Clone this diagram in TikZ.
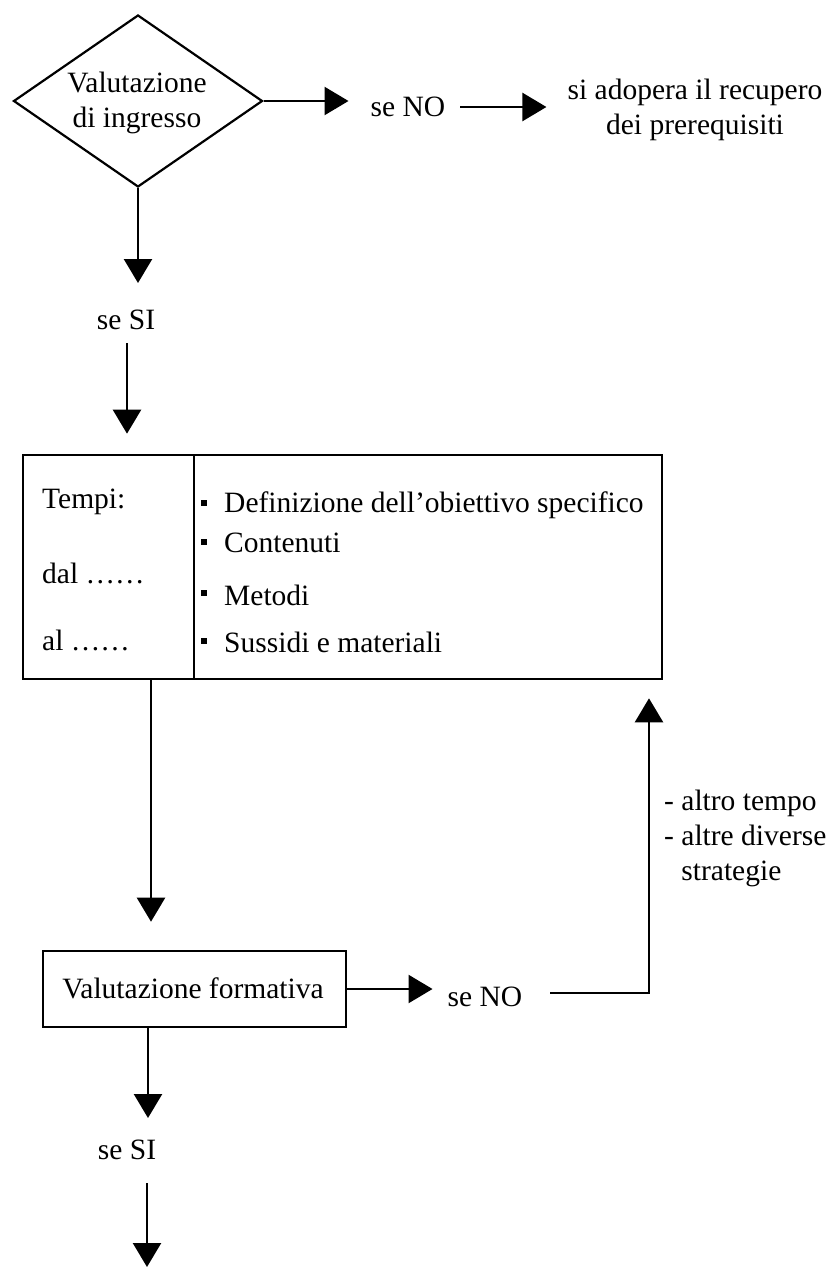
\documentclass[tikz,border=0pt]{standalone}
\usepackage{fontspec}
\setmainfont{Liberation Serif}
\usetikzlibrary{arrows.meta,shapes.geometric,calc}
\tikzset{
  txt/.style={inner sep=0pt, font=\fontsize{29.5}{35}\selectfont, align=center},
  conn/.style={line width=2.4pt},
  arr/.style={conn, -{Triangle[length=24pt,width=28pt]}},
  boxcell/.style={draw, line width=2.6pt, inner sep=0pt},
  bullet/.style={fill, inner sep=0pt, minimum size=6pt}
}
\begin{document}
\begin{tikzpicture}[x=1pt,y=-1pt]
\useasboundingbox (0,0) rectangle (828,1269);
% decision diamond
\node[draw, shape=diamond, line width=2.2pt, minimum width=249pt, minimum height=172pt, inner sep=0pt] (d) at (138,101) {};
\node[txt] (dtxt) at (137,103) {Valutazione\\di ingresso};
\node[txt] (no1) at (408,107) {se NO};
\node[txt] (rec) at (695,110) {si adopera il recupero\\dei prerequisiti};
\draw[arr] (d.east) -- (d.east -| no1.west) [shorten >=22pt];
\draw[arr, shorten <=15pt, shorten >=21pt] (no1.east) -- (no1.east -| rec.west);
% se SI 1
\coordinate (t1) at (138,283);
\node[txt] (si1) at (126,320) {se SI};
\draw[arr] (d.south) -- (t1);
% big box
\node[boxcell, minimum width=171pt, minimum height=224pt] (tl) at (108.5,567) {};
\node[boxcell, minimum width=468pt, minimum height=224pt] (tr) at (428,567) {};
\coordinate (s2) at (127,343);
\draw[arr, shorten >=20pt] (s2) -- (s2 |- tl.north);
\node[txt, anchor=west] (tempi) at (42,502) {Tempi:};
\node[txt, anchor=west] (dal) at (42,573) {dal ……};
\node[txt, anchor=west] (al) at (42,640) {al ……};
\node[bullet] (b1) at (204,503) {};
\node[bullet] (b2) at (204,542) {};
\node[bullet] (b3) at (204,593) {};
\node[bullet] (b4) at (204,641) {};
\node[txt, anchor=west] (i1) at (224,505) {Definizione dell'obiettivo specifico};
\node[txt, anchor=west] (i2) at (224,543) {Contenuti};
\node[txt, anchor=west] (i3) at (224,595) {Metodi};
\node[txt, anchor=west] (i4) at (224,642) {Sussidi e materiali};
% formative evaluation
\node[boxcell, minimum width=303pt, minimum height=76pt] (f) at (194.5,989) {};
\node[txt] (ftxt) at (193,988) {Valutazione formativa};
\coordinate (b1s) at (151,679);
\draw[arr, shorten >=28pt] (b1s) -- (b1s |- f.north);
\node[txt] (no2) at (485,997) {se NO};
\draw[arr, shorten >=15pt] (f.east) -- (f.east -| no2.west);
\coordinate (c1) at (649,993);
\draw[arr, shorten >=18pt] ([xshift=28pt,yshift=4pt]no2.east) -- (c1) -- (c1 |- tr.south);
\node[txt, anchor=north west, align=left] (alt) at (664,790) {- altro tempo\\- altre diverse\\\phantom{- }strategie};
% se SI 2
\coordinate (b2s) at (148,1027);
\coordinate (t4) at (148,1118);
\draw[arr] (b2s) -- (t4);
\node[txt] (si2) at (127,1150) {se SI};
\coordinate (s5) at (147,1183);
\coordinate (t5) at (147,1267);
\draw[arr] (s5) -- (t5);
\end{tikzpicture}
\end{document}
